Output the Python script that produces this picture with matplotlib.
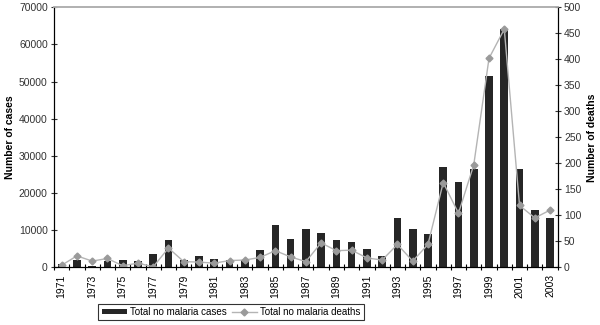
import numpy as np
import matplotlib.pyplot as plt

plt.rcParams['font.family'] = ['Liberation Sans', 'DejaVu Sans']

years = list(range(1971, 2004))
cases = [800, 1900, 300, 1700, 1900, 1700, 3600, 7300, 1900, 3100,
         2300, 2000, 2000, 4650, 11300, 7500, 10200, 9200, 7270, 6800,
         4850, 2960, 13350, 10200, 8880, 26900, 22960, 26460, 51400, 64200,
         26460, 15420, 13190]
deaths = [4, 22, 12, 17, 3, 8, 1, 37, 11, 10,
          8, 13, 14, 19, 32, 20, 11, 47, 32, 33,
          18, 14, 44, 12, 44, 163, 104, 197, 402, 458,
          119, 95, 110]

fs = 7.5
fig = plt.figure(figsize=(6, 3.25), dpi=100)
ax = fig.add_axes([0.09, 0.1775, 0.8395, 0.8])
x = np.arange(len(years))

bars = ax.bar(x, cases, width=0.5, color='#262626', label='Total no malaria cases')
ax.set_xlim(-0.5, len(years) - 0.5)
ax.set_ylim(0, 70000)
ax.set_yticks(range(0, 70001, 10000))
ax.set_ylabel('Number of cases', fontsize=fs, fontweight='bold', labelpad=3)

# year labels on every other category, ticks on the category boundaries
ax.set_xticks(x[::2])
ax.set_xticklabels([str(y) for y in years[::2]], rotation=90, fontsize=fs)
ax.tick_params(axis='x', length=0, pad=5)
ax.set_xticks(np.arange(-0.5, len(years), 1), minor=True)
ax.tick_params(axis='x', which='minor', length=5, direction='inout', width=0.8)
ax.tick_params(axis='y', labelsize=fs, length=5, direction='inout', width=0.8, pad=2, colors='#333333')

ax2 = ax.twinx()
line, = ax2.plot(x, deaths, color='#b4b4b4', lw=1, marker='D', ms=3.5,
                 mfc='#9a9a9a', mec='#9a9a9a', label='Total no malaria deaths')
ax2.set_ylim(0, 500)
ax2.set_yticks(range(0, 501, 50))
ax2.set_ylabel('Number of deaths', fontsize=fs, fontweight='bold', labelpad=4)
ax2.tick_params(axis='y', labelsize=fs, length=5, direction='inout', width=0.8, pad=2, colors='#333333')

for a in (ax, ax2):
    a.spines['top'].set_color('#b0b0b0')
    a.spines['top'].set_linewidth(1.2)
    for s in ('left', 'right', 'bottom'):
        a.spines[s].set_linewidth(0.8)

leg = fig.legend([bars, line], ['Total no malaria cases', 'Total no malaria deaths'],
                 loc='center', bbox_to_anchor=(0.385, 0.04), ncol=2, fontsize=7,
                 frameon=True, fancybox=False, edgecolor='black', borderpad=0.35,
                 handlelength=2.6, handleheight=0.5, handletextpad=0.3,
                 columnspacing=0.5, borderaxespad=0.3)
leg.get_frame().set_linewidth(0.8)

fig.savefig('out.png', dpi=100)
